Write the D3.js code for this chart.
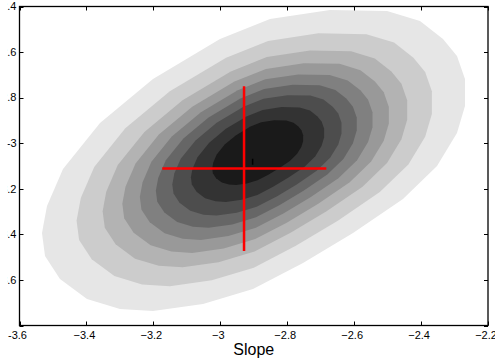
<!DOCTYPE html>
<html>
<head>
<meta charset="utf-8">
<script src="https://cdn.jsdelivr.net/npm/d3@7"></script>
<style>
  html, body { margin: 0; padding: 0; background: #fff; }
  svg { display: block; font-family: "Liberation Sans", Arial, sans-serif; }
</style>
</head>
<body>
<svg id="chart" width="495" height="359"></svg>
<script>
// ---- data ----
const xTickValues = [-3.6, -3.4, -3.2, -3.0, -2.8, -2.6, -2.4, -2.2];
const xTickLabels = ["-3.6", "\u22123.4", "\u22123.2", "\u22123", "\u22122.8", "\u22122.6", "\u22122.4", "\u22122.2"];
const yTickValues = [-2.4, -2.6, -2.8, -3.0, -3.2, -3.4, -3.6, -3.8];
const yTickLabels = ["-2.4", "-2.6", "-2.8", "-3", "-3.2", "-3.4", "-3.6", ""];
const xLabel = "Slope";

// likelihood contour levels (fraction of maximum), relative size and centre of each level
const contourLevels = [0.1, 0.2, 0.3, 0.4, 0.5, 0.6, 0.7, 0.8, 0.9];
const contourSize   = [1.0, 0.84, 0.72, 0.63, 0.55, 0.475, 0.40, 0.315, 0.215];
const levelCenterSlope = [-2.8963, -2.8948, -2.8933, -2.8918, -2.8903, -2.8903, -2.8888, -2.8873, -2.8873];
const levelCenterIntercept = [-3.0824, -3.0781, -3.0737, -3.0693, -3.0649, -3.0605, -3.0561, -3.0517, -3.0429];
// outer (10 %) contour, read point by point: slope and intercept
const outerSlope = [-2.6722, -2.5018, -2.4032, -2.3345, -2.2927, -2.2688, -2.2688, -2.2927, -2.3524,
                    -2.4540, -2.6034, -2.7528, -2.9023, -3.0517, -3.2011, -3.2997, -3.3983, -3.4790,
                    -3.5238, -3.5328, -3.5178, -3.4700, -3.3594, -3.2011, -3.0009, -2.8515];
const outerIntercept = [-2.4154, -2.4197, -2.4636, -2.5426, -2.6172, -2.7182, -2.8367, -2.9552, -3.1000,
                        -3.2448, -3.3940, -3.5257, -3.6398, -3.7056, -3.7364, -3.7276, -3.6837, -3.5959,
                        -3.4950, -3.3940, -3.2756, -3.1132, -2.9113, -2.7182, -2.5426, -2.4549];

// estimate with error bars
const estimateX = [-2.929];
const estimateY = [-3.1105];
const errorXRange = [-3.1734, -2.6831];
const errorYRange = [-3.4733, -2.7496];
// peak marker
const peakX = [-2.9034];
const peakY = [-3.0815];

// ---- layout ----
const svg = d3.select("#chart");
const L = 19.5, R = 488, T = 6.5, B = 325.5;
const x = d3.scaleLinear().domain([-3.6, -2.2]).range([L, R]);
const y = d3.scaleLinear().domain([-3.8, -2.4]).range([B, T]);
const gray = d3.scaleLinear().domain([0, 1]).range(["#ffffff", "#000000"]);

const defs = svg.append("defs");
defs.append("clipPath").attr("id", "plotclip")
  .append("rect").attr("x", L).attr("y", T).attr("width", R - L).attr("height", B - T);
defs.append("clipPath").attr("id", "leftclip")
  .append("rect").attr("x", 7.5).attr("y", 0).attr("width", 495).attr("height", 359);

// ---- filled contours ----
const line = d3.line().x(d => x(d[0])).y(d => y(d[1])).curve(d3.curveLinearClosed);
const plot = svg.append("g").attr("clip-path", "url(#plotclip)");
contourLevels.forEach((lev, i) => {
  const s = contourSize[i];
  const pts = outerSlope.map((sx, k) => [
    levelCenterSlope[i] + s * (sx - levelCenterSlope[0]),
    levelCenterIntercept[i] + s * (outerIntercept[k] - levelCenterIntercept[0])
  ]);
  plot.append("path").attr("d", line(pts)).attr("fill", gray(lev)).attr("stroke", "none");
});

// ---- error cross ----
plot.append("line")
  .attr("x1", x(errorXRange[0])).attr("x2", x(errorXRange[1]))
  .attr("y1", y(estimateY[0])).attr("y2", y(estimateY[0]))
  .attr("stroke", "#ff0000").attr("stroke-width", 2.5);
plot.append("line")
  .attr("x1", x(estimateX[0])).attr("x2", x(estimateX[0]))
  .attr("y1", y(errorYRange[0])).attr("y2", y(errorYRange[1]))
  .attr("stroke", "#ff0000").attr("stroke-width", 2.5);
// peak marker
plot.append("line")
  .attr("x1", x(peakX[0])).attr("x2", x(peakX[0]))
  .attr("y1", y(peakY[0]) - 3).attr("y2", y(peakY[0]) + 3)
  .attr("stroke", "#000").attr("stroke-width", 1.5);

// ---- axes (box with inward ticks) ----
const tickLen = 4;
const axes = svg.append("g").attr("stroke", "#000").attr("stroke-width", 1);
axes.append("rect").attr("x", L).attr("y", T).attr("width", R - L).attr("height", B - T)
  .attr("fill", "none").attr("stroke-width", 1.3);
xTickValues.forEach(v => {
  const px = Math.round(x(v)) + 0.5;
  axes.append("line").attr("x1", px).attr("x2", px).attr("y1", B).attr("y2", B - tickLen);
  axes.append("line").attr("x1", px).attr("x2", px).attr("y1", T).attr("y2", T + tickLen);
});
yTickValues.forEach(v => {
  const py = Math.round(y(v)) + 0.5;
  axes.append("line").attr("x1", L).attr("x2", L + tickLen).attr("y1", py).attr("y2", py);
  axes.append("line").attr("x1", R).attr("x2", R - tickLen).attr("y1", py).attr("y2", py);
});

// tick labels
svg.append("g").selectAll("text").data(xTickValues).join("text")
  .attr("x", d => x(d) - 2).attr("y", 339)
  .attr("text-anchor", "middle").attr("font-size", 11).attr("fill", "#000")
  .text((d, i) => xTickLabels[i]);
svg.append("g").attr("clip-path", "url(#leftclip)")
  .selectAll("text").data(yTickValues).join("text")
  .attr("x", 16.5).attr("y", d => y(d)).attr("dy", "0.35em")
  .attr("text-anchor", "end").attr("font-size", 11).attr("fill", "#000")
  .text((d, i) => yTickLabels[i]);

// axis title
svg.append("text").attr("x", (L + R) / 2).attr("y", 355)
  .attr("text-anchor", "middle").attr("font-size", 16).attr("fill", "#000")
  .text(xLabel);
</script>
</body>
</html>
